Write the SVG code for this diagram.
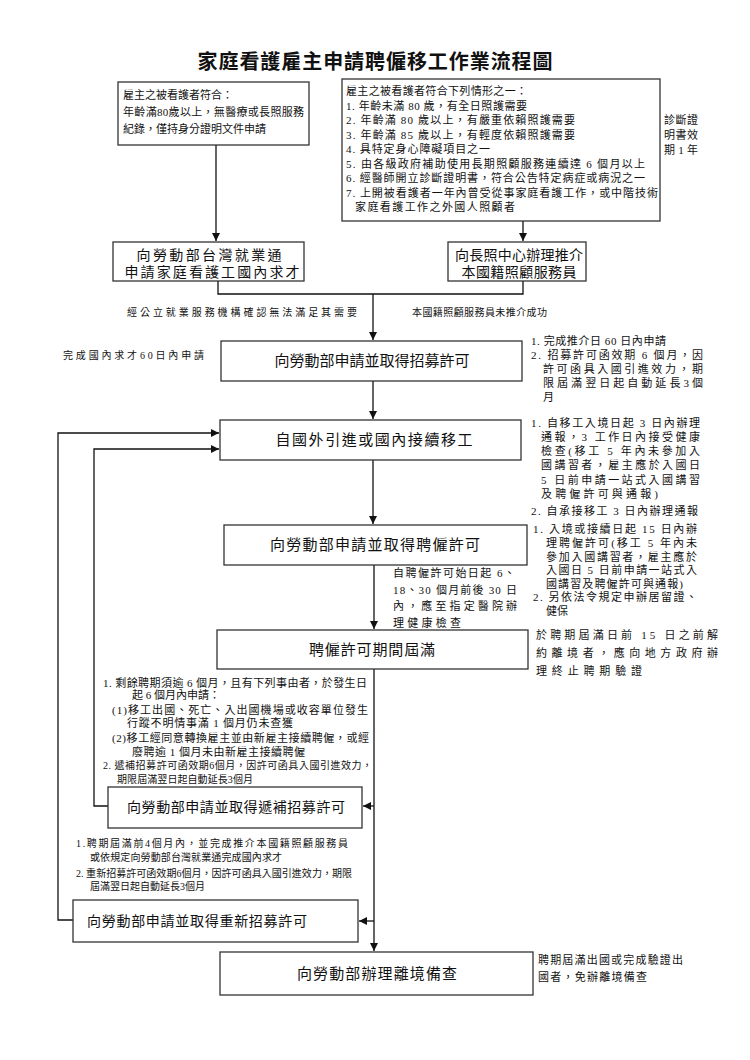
<svg xmlns="http://www.w3.org/2000/svg" width="750" height="1060" viewBox="0 0 750 1060">
<style>
.bg{fill:#fff}
.box{fill:#fff;stroke:#333;stroke-width:1.3}
.ln{fill:none;stroke:#111;stroke-width:1.3}
text{font-family:"Liberation Serif","Noto Sans CJK TC",serif;fill:#111}
.title{font-size:20px;font-weight:bold}
.s10{font-size:10px}
.s11{font-size:11px}
.s14{font-size:14px}
.s15{font-size:15px}
.c{text-anchor:middle}
</style>
<defs>
<marker id="ah" markerUnits="userSpaceOnUse" markerWidth="8" markerHeight="8" refX="8" refY="4" orient="auto">
<path d="M0,0 L8,4 L0,8 z" fill="#111"/>
</marker>
</defs>
<rect class="bg" x="0" y="0" width="750" height="1060"/>
<text class="title c" x="375" y="69" textLength="355">家庭看護雇主申請聘僱移工作業流程圖</text>

<g id="connectors">
<path class="ln" d="M216,145 V241" marker-end="url(#ah)"/>
<path class="ln" d="M523,221 V241" marker-end="url(#ah)"/>
<path class="ln" d="M218,281 V294 H523 V281"/>
<path class="ln" d="M373,294 V340" marker-end="url(#ah)"/>
<path class="ln" d="M373,381 V419" marker-end="url(#ah)"/>
<path class="ln" d="M373,460 V524" marker-end="url(#ah)"/>
<path class="ln" d="M374,565 V629" marker-end="url(#ah)"/>
<path class="ln" d="M374,669 V951" marker-end="url(#ah)"/>
<path class="ln" d="M374,806 H363" marker-end="url(#ah)"/>
<path class="ln" d="M374,921 H359" marker-end="url(#ah)"/>
<path class="ln" d="M108,806 H94 V449 H219" marker-end="url(#ah)"/>
<path class="ln" d="M73,920 H58 V433 H219" marker-end="url(#ah)"/>
</g>

<g id="nodeA">
<rect class="box" x="118" y="82" width="191" height="63"/>
<text class="s11" x="123" y="99">雇主之被看護者符合：</text>
<text class="s11" x="123" y="116" textLength="181">年齡滿80歲以上，無醫療或長照服務</text>
<text class="s11" x="123" y="133">紀錄，僅持身分證明文件申請</text>
</g>

<g id="nodeB">
<rect class="box" x="342" y="79" width="318" height="142"/>
<text class="s11" x="346" y="95" textLength="181">雇主之被看護者符合下列情形之一：</text>
<text class="s11" x="346" y="109.5" textLength="181">1. 年齡未滿 80 歲，有全日照護需要</text>
<text class="s11" x="346" y="124" textLength="229">2. 年齡滿 80 歲以上，有嚴重依賴照護需要</text>
<text class="s11" x="346" y="138.5" textLength="229">3. 年齡滿 85 歲以上，有輕度依賴照護需要</text>
<text class="s11" x="346" y="153" textLength="144">4. 具特定身心障礙項目之一</text>
<text class="s11" x="346" y="167.5" textLength="299">5. 由各級政府補助使用長期照顧服務連續達 6 個月以上</text>
<text class="s11" x="346" y="182" textLength="299">6. 經醫師開立診斷證明書，符合公告特定病症或病況之一</text>
<text class="s11" x="346" y="196.5" textLength="312">7. 上開被看護者一年內曾受從事家庭看護工作，或中階技術</text>
<text class="s11" x="355" y="211" textLength="160">家庭看護工作之外國人照顧者</text>
</g>
<g id="noteB">
<text class="s11" x="664" y="124" textLength="34">診斷證</text>
<text class="s11" x="664" y="139" textLength="34">明書效</text>
<text class="s11" x="664" y="154" textLength="34">期 1 年</text>
</g>

<g id="nodeC">
<rect class="box" x="113" y="242" width="191" height="39"/>
<text class="s14 c" x="209" y="260" textLength="145">向勞動部台灣就業通</text>
<text class="s14 c" x="212" y="277" textLength="175">申請家庭看護工國內求才</text>
</g>

<g id="nodeD">
<rect class="box" x="448" y="242" width="138" height="39"/>
<text class="s14 c" x="519" y="260" textLength="128">向長照中心辦理推介</text>
<text class="s14 c" x="519" y="277" textLength="115">本國籍照顧服務員</text>
</g>

<g id="labels">
<text class="s10" x="127" y="316" textLength="230">經公立就業服務機構確認無法滿足其需要</text>
<text class="s10" x="412" y="316" textLength="135">本國籍照顧服務員未推介成功</text>
</g>

<g id="nodeE">
<rect class="box" x="221" y="341" width="301" height="40"/>
<text class="s15 c" x="372" y="366" textLength="195">向勞動部申請並取得招募許可</text>
</g>
<g id="noteE">
<text class="s10" x="63" y="359" textLength="141">完成國內求才60日內申請</text>
<text class="s11" x="531" y="345" textLength="135">1. 完成推介日 60 日內申請</text>
<text class="s11" x="531" y="359" textLength="172">2. 招募許可函效期 6 個月，因</text>
<text class="s11" x="543" y="373" textLength="160">許可函具入國引進效力，期</text>
<text class="s11" x="543" y="387" textLength="160">限屆滿翌日起自動延長3個</text>
<text class="s11" x="543" y="401">月</text>
</g>

<g id="nodeF">
<rect class="box" x="220" y="420" width="301" height="40"/>
<text class="s15 c" x="374" y="445" textLength="197">自國外引進或國內接續移工</text>
</g>
<g id="noteF">
<text class="s11" x="531" y="427" textLength="169">1. 自移工入境日起 3 日內辦理</text>
<text class="s11" x="541" y="441" textLength="159">通報，3 工作日內接受健康</text>
<text class="s11" x="541" y="455" textLength="159">檢查(移工 5 年內未參加入</text>
<text class="s11" x="541" y="469" textLength="159">國講習者，雇主應於入國日</text>
<text class="s11" x="541" y="484" textLength="159">5 日前申請一站式入國講習</text>
<text class="s11" x="541" y="498" textLength="117">及聘僱許可與通報)</text>
<text class="s11" x="531" y="515" textLength="167">2. 自承接移工 3 日內辦理通報</text>
</g>

<g id="nodeG">
<rect class="box" x="224" y="525" width="303" height="40"/>
<text class="s15 c" x="375" y="550" textLength="210">向勞動部申請並取得聘僱許可</text>
</g>
<g id="noteG">
<text class="s11" x="393" y="577" textLength="122">自聘僱許可始日起 6、</text>
<text class="s11" x="393" y="593.5" textLength="124">18、30 個月前後 30 日</text>
<text class="s11" x="393" y="610" textLength="124">內，應至指定醫院辦</text>
<text class="s11" x="393" y="626.5" textLength="68">理健康檢查</text>
<text class="s11" x="533" y="533" textLength="164">1. 入境或接續日起 15 日內辦</text>
<text class="s11" x="546" y="547" textLength="151">理聘僱許可(移工 5 年內未</text>
<text class="s11" x="546" y="560.5" textLength="151">參加入國講習者，雇主應於</text>
<text class="s11" x="546" y="574" textLength="151">入國日 5 日前申請一站式入</text>
<text class="s11" x="546" y="587.5" textLength="137">國講習及聘僱許可與通報)</text>
<text class="s11" x="533" y="601" textLength="164">2. 另依法令規定申辦居留證、</text>
<text class="s11" x="546" y="615">健保</text>
</g>

<g id="nodeH">
<rect class="box" x="217" y="630" width="311" height="39"/>
<text class="s15 c" x="372" y="655" textLength="126">聘僱許可期間屆滿</text>
</g>
<g id="noteH">
<text class="s11" x="536" y="639" textLength="182">於聘期屆滿日前 15 日之前解</text>
<text class="s11" x="536" y="657" textLength="182">約離境者，應向地方政府辦</text>
<text class="s11" x="536" y="675" textLength="106">理終止聘期驗證</text>
</g>

<g id="noteI">
<text class="s11" x="103" y="687" textLength="264">1. 剩餘聘期須逾 6 個月，且有下列事由者，於發生日</text>
<text class="s11" x="132" y="699">起 6 個月內申請：</text>
<text class="s11" x="112" y="714" textLength="256">(1)移工出國、死亡、入出國機場或收容單位發生</text>
<text class="s11" x="127" y="727" textLength="166">行蹤不明情事滿 1 個月仍未查獲</text>
<text class="s11" x="112" y="742" textLength="257">(2)移工經同意轉換雇主並由新雇主接續聘僱，或經</text>
<text class="s11" x="132" y="756" textLength="173">廢聘逾 1 個月未由新雇主接續聘僱</text>
<text class="s10" x="103" y="769" textLength="269">2. 遞補招募許可函效期6個月，因許可函具入國引進效力，</text>
<text class="s10" x="117" y="783" textLength="136">期限屆滿翌日起自動延長3個月</text>
</g>
<g id="nodeI">
<rect class="box" x="108" y="787" width="254" height="41"/>
<text class="s14 c" x="236" y="812" textLength="218">向勞動部申請並取得遞補招募許可</text>
</g>

<g id="noteJ">
<text class="s10" x="76" y="847" textLength="272">1.聘期屆滿前4個月內，並完成推介本國籍照顧服務員</text>
<text class="s10" x="90" y="861" textLength="192">或依規定向勞動部台灣就業通完成國內求才</text>
<text class="s10" x="76" y="877" textLength="276">2. 重新招募許可函效期6個月，因許可函具入國引進效力，期限</text>
<text class="s10" x="90" y="890" textLength="115">屆滿翌日起自動延長3個月</text>
</g>
<g id="nodeJ">
<rect class="box" x="73" y="900" width="285" height="42"/>
<text class="s14" x="87" y="926" textLength="220">向勞動部申請並取得重新招募許可</text>
</g>

<g id="nodeK">
<rect class="box" x="220" y="952" width="313" height="43"/>
<text class="s15 c" x="377" y="979" textLength="160">向勞動部辦理離境備查</text>
</g>
<g id="noteK">
<text class="s11" x="538" y="964" textLength="145">聘期屆滿出國或完成驗證出</text>
<text class="s11" x="538" y="981" textLength="109">國者，免辦離境備查</text>
</g>
</svg>
